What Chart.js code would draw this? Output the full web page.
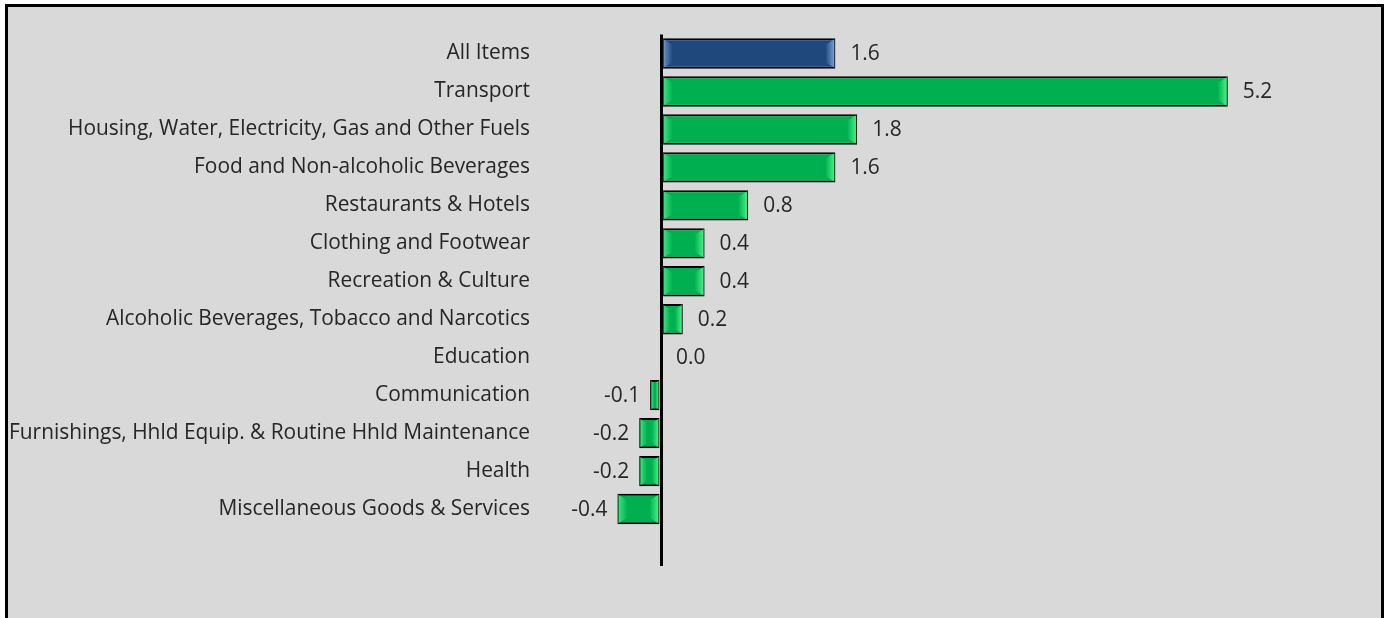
<!DOCTYPE html>
<html>
<head>
<meta charset="utf-8">
<script src="https://cdn.jsdelivr.net/npm/chart.js@4/dist/chart.umd.min.js"></script>
<style>
  html, body { margin: 0; padding: 0; width: 1384px; height: 618px; overflow: hidden; background: #ffffff; }
  #frame { position: absolute; left: 5px; top: 4px; width: 1373px; height: 700px; border: 3px solid #000; background: #d9d9d9; }
  #c { position: absolute; left: 0; top: 0; }
</style>
</head>
<body>
<div id="frame"></div>
<canvas id="c" width="1384" height="618"></canvas>
<script>
const categories = [
  "All Items",
  "Transport",
  "Housing, Water, Electricity, Gas and Other Fuels",
  "Food and Non-alcoholic Beverages",
  "Restaurants & Hotels",
  "Clothing and Footwear",
  "Recreation & Culture",
  "Alcoholic Beverages, Tobacco and Narcotics",
  "Education",
  "Communication",
  "Furnishings, Hhld Equip. & Routine Hhld Maintenance",
  "Health",
  "Miscellaneous Goods & Services",
  ""
];
const values = [1.6, 5.2, 1.8, 1.6, 0.8, 0.4, 0.4, 0.2, 0.0, -0.1, -0.2, -0.2, -0.4, null];
const valueLabels = ["1.6", "5.2", "1.8", "1.6", "0.8", "0.4", "0.4", "0.2", "0.0", "-0.1", "-0.2", "-0.2", "-0.4", ""];
const xMin = -1;
const xMax = 6;

const GREEN = '#00b050';
const BLUE = '#1f497d';
const barColors = values.map((v, i) => i === 0 ? BLUE : GREEN);
const hiRGB = values.map((v, i) => i === 0 ? '120,160,215' : '70,240,135');

const FONT = "'Open Sans', sans-serif";

// choose a font size so the longest label spans about 520px, like the reference
const mctx = document.createElement('canvas').getContext('2d');
let FS = 19;
{
  const longest = categories.reduce((a, b) => (b.length > a.length ? b : a), "");
  mctx.font = "100px " + FONT;
  const w100 = mctx.measureText(longest).width;
  FS = Math.round((520 / w100) * 100 * 10) / 10;
}

const bevelPlugin = {
  id: 'bevel',
  afterDatasetDraw(chart, args) {
    const ctx = chart.ctx;
    const meta = args.meta;
    meta.data.forEach((bar, i) => {
      const v = values[i];
      if (v === null || v === 0) return;
      const left = Math.min(bar.x, bar.base);
      const right = Math.max(bar.x, bar.base);
      const top = bar.y - bar.height / 2;
      const bottom = bar.y + bar.height / 2;
      const w = right - left;
      const ew = Math.min(9, w / 3);
      const inset = 1;
      const c = hiRGB[i];
      ctx.save();
      let g = ctx.createLinearGradient(right - inset - ew, 0, right - inset, 0);
      g.addColorStop(0, 'rgba(' + c + ',0)');
      g.addColorStop(1, 'rgba(' + c + ',1)');
      ctx.fillStyle = g;
      ctx.beginPath();
      ctx.moveTo(right - inset - ew, top + inset + ew * 0.6);
      ctx.lineTo(right - inset, top + inset);
      ctx.lineTo(right - inset, bottom - inset);
      ctx.lineTo(right - inset - ew, bottom - inset - ew * 0.6);
      ctx.closePath();
      ctx.fill();
      g = ctx.createLinearGradient(left + inset + ew, 0, left + inset, 0);
      g.addColorStop(0, 'rgba(' + c + ',0)');
      g.addColorStop(1, 'rgba(' + c + ',0.8)');
      ctx.fillStyle = g;
      ctx.beginPath();
      ctx.moveTo(left + inset + ew, top + inset + ew * 0.6);
      ctx.lineTo(left + inset, top + inset);
      ctx.lineTo(left + inset, bottom - inset);
      ctx.lineTo(left + inset + ew, bottom - inset - ew * 0.6);
      ctx.closePath();
      ctx.fill();
      ctx.restore();
    });
  }
};

const labelPlugin = {
  id: 'valueLabels',
  afterDraw(chart) {
    const ctx = chart.ctx;
    const meta = chart.getDatasetMeta(0);
    ctx.save();
    ctx.font = FS + "px " + FONT;
    ctx.fillStyle = '#262626';
    ctx.textBaseline = 'middle';
    meta.data.forEach((bar, i) => {
      const v = values[i];
      if (v === null) return;
      if (v >= 0) {
        ctx.textAlign = 'left';
        ctx.fillText(valueLabels[i], bar.x + 15, bar.y + 1);
      } else {
        ctx.textAlign = 'right';
        ctx.fillText(valueLabels[i], bar.x - 10, bar.y + 1);
      }
    });
    ctx.restore();
  }
};

new Chart(document.getElementById('c'), {
  type: 'bar',
  data: {
    labels: categories,
    datasets: [{
      data: values,
      backgroundColor: barColors,
      borderColor: '#000000',
      borderWidth: 2,
      borderSkipped: false,
      barPercentage: 0.8,
      categoryPercentage: 1.0
    }]
  },
  options: {
    indexAxis: 'y',
    responsive: false,
    animation: false,
    layout: { padding: { top: 32, bottom: 52, left: 0, right: 69 } },
    plugins: { legend: { display: false }, tooltip: { enabled: false } },
    scales: {
      x: {
        min: xMin,
        max: xMax,
        ticks: { display: false, stepSize: 1 },
        border: { display: false },
        grid: {
          drawTicks: false,
          lineWidth: 3,
          color: (c) => (c.tick && c.tick.value === 0) ? '#000000' : 'rgba(0,0,0,0)'
        }
      },
      y: {
        afterFit(scale) { scale.width = 552; },
        border: { display: false },
        grid: { display: false, drawTicks: false },
        ticks: {
          padding: 22,
          color: '#262626',
          font: { family: FONT, size: FS },
          autoSkip: false
        }
      }
    }
  },
  plugins: [bevelPlugin, labelPlugin]
});
</script>
</body>
</html>
